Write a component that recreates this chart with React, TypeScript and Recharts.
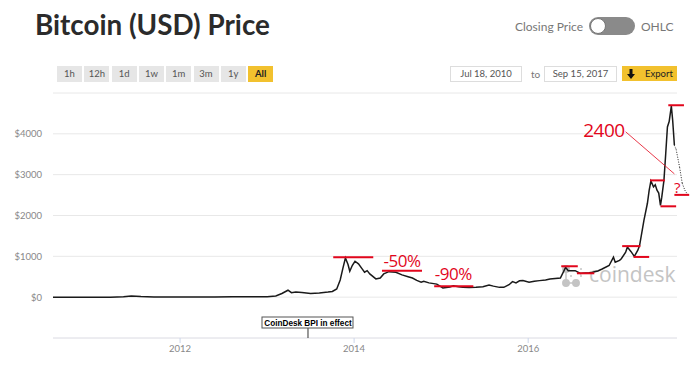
import React from "react";
import { LineChart, Line, XAxis, YAxis, CartesianGrid, ReferenceLine, ReferenceDot } from "recharts";

// closing price, sampled by eye from the chart (year as decimal)
const priceYears = [
  2010.54, 2010.8, 2011.0, 2011.2, 2011.35, 2011.44, 2011.55, 2011.7, 2011.9, 2012.1,
  2012.4, 2012.6, 2012.8, 2013.0, 2013.1, 2013.17, 2013.24, 2013.28, 2013.33, 2013.4,
  2013.5, 2013.6, 2013.7, 2013.75, 2013.8, 2013.84, 2013.87, 2013.9, 2013.93, 2013.95,
  2013.98, 2014.01, 2014.05, 2014.09, 2014.12, 2014.15, 2014.18, 2014.25, 2014.3, 2014.34,
  2014.4, 2014.48, 2014.55, 2014.62, 2014.67, 2014.72, 2014.77, 2014.8, 2014.86, 2014.95,
  2015.02, 2015.1, 2015.14, 2015.2, 2015.25, 2015.32, 2015.4, 2015.48, 2015.55, 2015.6,
  2015.67, 2015.72, 2015.78, 2015.82, 2015.86, 2015.9, 2015.94, 2016.01, 2016.07, 2016.13,
  2016.2, 2016.25, 2016.37, 2016.43, 2016.46, 2016.54, 2016.6, 2016.62, 2016.7, 2016.74,
  2016.8, 2016.85, 2016.93, 2016.98, 2017.0, 2017.05, 2017.07, 2017.12, 2017.14, 2017.18,
  2017.22, 2017.26, 2017.28, 2017.33, 2017.37, 2017.39, 2017.41, 2017.44, 2017.46, 2017.48,
  2017.5, 2017.52, 2017.535, 2017.56, 2017.58, 2017.6, 2017.62, 2017.645, 2017.66, 2017.68,
];
const priceValues = [
  0.07, 0.2, 0.3, 0.9, 8, 30, 14, 5, 3, 5,
  5, 11, 11, 13, 30, 90, 170, 110, 125, 115,
  90, 105, 125, 140, 200, 420, 700, 960, 800, 635,
  780, 880, 815, 700, 610, 650, 570, 447, 470, 570,
  625, 610, 545, 500, 470, 410, 365, 390, 350, 320,
  225, 250, 280, 255, 240, 235, 240, 255, 300, 270,
  240, 240, 305, 380, 350, 400, 405, 365, 390, 405,
  420, 445, 470, 730, 650, 650, 580, 585, 600, 610,
  640, 690, 775, 980, 855, 900, 940, 1100, 1225, 1120,
  1000, 1150, 1265, 1880, 2300, 2615, 2845, 2700, 2750, 2620,
  2550, 2250, 2450, 2860, 3500, 4170, 4300, 4680, 4340, 3720,
];

// hand drawn dotted projection after the last close
const projectionYears = [2017.68, 2017.7, 2017.74, 2017.77, 2017.8, 2017.83];
const projectionValues = [3720, 3620, 3180, 2790, 2620, 2520];

const yTicks = [0, 1000, 2000, 3000, 4000, 5000];
const xTicks = [2012, 2014, 2016];

// red level marks: [fromYear, toYear, price]
const levelMarks = [
  [2013.76, 2014.22, 980],
  [2014.32, 2014.78, 650],
  [2014.92, 2015.37, 265],
  [2016.38, 2016.57, 757],
  [2016.56, 2016.76, 585],
  [2017.08, 2017.29, 1250],
  [2017.21, 2017.39, 985],
  [2017.4, 2017.57, 2860],
  [2017.52, 2017.7, 2225],
  [2017.61, 2017.79, 4700],
  [2017.68, 2017.85, 2505],
];

// red notes: [year, price, text, fontSize]
const notes: [number, number, string, number][] = [
  [2014.55, 880, "-50%", 17],
  [2015.14, 577, "-90%", 17],
  [2016.87, 4090, "2400", 19],
  [2017.71, 2690, "?", 15],
];

const pointer = [
  { x: 2017.12, y: 4050 },
  { x: 2017.68, y: 3020 },
];

const bpiYear = 2013.47;

const RED = "#e2061c";

const data = priceYears.map((t, i) => ({ t, price: priceValues[i] }));

const YTick = ({ x, y, payload }: any) =>
  payload.value === 5000 ? null : (
    <text x={x} y={y} dy={3.5} textAnchor="end" fontSize={9.5} fill="#888" fontFamily="Lato, sans-serif">
      ${payload.value}
    </text>
  );

const BpiFlag = ({ cx, cy }: any) => (
  <g>
    <line x1={cx} y1={cy - 10} x2={cx} y2={cy} stroke="#333" />
    <rect x={cx - 46} y={cy - 21} width={91} height={11} fill="#fff" stroke="#555" />
    <text x={cx} y={cy - 12.5} textAnchor="middle" fontSize={8.2} fontWeight="bold" fill="#000" fontFamily="Liberation Sans, Arial, sans-serif">
      CoinDesk BPI in effect
    </text>
  </g>
);

const noteShape = (label: string, size: number) => ({ cx, cy }: any) => (
  <text x={cx} y={cy} dy={size * 0.36} textAnchor="middle" fontSize={size} fill={RED} fontFamily="Open Sans, sans-serif" letterSpacing={-0.5}>
    {label}
  </text>
);

const btn: React.CSSProperties = {
  position: "absolute",
  top: 66,
  height: 16,
  width: 25,
  background: "#e6e6e6",
  color: "#555",
  fontSize: 9.5,
  lineHeight: "16px",
  textAlign: "center",
};

const ranges = ["1h", "12h", "1d", "1w", "1m", "3m", "1y", "All"];

const App = () => {
  return (
    <div style={{ position: "relative", width: 690, height: 375, background: "#fff", fontFamily: "Lato, sans-serif", overflow: "hidden" }}>
      <style>{"body{margin:0}"}</style>

      <div style={{ position: "absolute", left: 35, top: 8, fontSize: 27.8, fontWeight: 700, color: "#2b2b2b", lineHeight: "34px" }}>
        Bitcoin (USD) Price
      </div>

      {ranges.map((r, i) => (
        <div
          key={r}
          style={{
            ...btn,
            left: 57 + i * 27.3,
            background: r === "All" ? "#f2c12e" : "#e6e6e6",
            color: r === "All" ? "#222" : "#555",
            fontWeight: r === "All" ? 700 : 400,
          }}
        >
          {r}
        </div>
      ))}

      <div style={{ position: "absolute", right: 107, top: 19, fontSize: 12, color: "#777" }}>Closing Price</div>
      <div style={{ position: "absolute", left: 589, top: 17, width: 46, height: 18, borderRadius: 9, background: "#8a8a8a" }}>
        <div style={{ position: "absolute", left: 1, top: 1, width: 14, height: 14, borderRadius: 8, background: "#fff", border: "1px solid #777" }} />
      </div>
      <div style={{ position: "absolute", left: 641, top: 19, fontSize: 12, color: "#777" }}>OHLC</div>

      <div style={{ position: "absolute", left: 450, top: 66, width: 70, height: 14, border: "1px solid #ddd", fontSize: 9.5, lineHeight: "14px", textAlign: "center", color: "#555" }}>
        Jul 18, 2010
      </div>
      <div style={{ position: "absolute", left: 531, top: 66, fontSize: 10, lineHeight: "16px", color: "#777" }}>to</div>
      <div style={{ position: "absolute", left: 544, top: 66, width: 71, height: 14, border: "1px solid #ddd", fontSize: 9.5, lineHeight: "14px", textAlign: "center", color: "#555" }}>
        Sep 15, 2017
      </div>
      <div style={{ position: "absolute", left: 622, top: 66, width: 55, height: 15, background: "#f2c12e", fontSize: 9.5, lineHeight: "15px", color: "#222" }}>
        <svg width="8" height="10" style={{ position: "absolute", left: 5, top: 3 }}>
          <path d="M2.5 0 H5.5 V5 H8 L4 10 L0 5 H2.5 Z" fill="#111" />
        </svg>
        <span style={{ position: "absolute", left: 23 }}>Export</span>
      </div>

      {/* watermark, behind the chart */}
      <div style={{ position: "absolute", left: 561, top: 263, width: 120, height: 26 }}>
        <svg width="26" height="26" style={{ position: "absolute", left: 0, top: 0 }}>
          <g fill="#c4c4c4" stroke="#c4c4c4" strokeWidth="1.5">
            <line x1="5" y1="6" x2="5" y2="20" />
            <line x1="5" y1="20" x2="15" y2="20" />
            <circle cx="5" cy="6" r="3.2" />
            <circle cx="5" cy="20" r="3.2" />
            <circle cx="15" cy="20" r="3.2" />
            <circle cx="10" cy="13" r="1" stroke="none" />
            <circle cx="20" cy="13" r="1" stroke="none" />
            <circle cx="20" cy="6" r="1" stroke="none" />
          </g>
        </svg>
        <span style={{ position: "absolute", left: 28, top: -3, fontSize: 21, color: "#c4c4c4", fontFamily: "Open Sans, sans-serif" }}>coindesk</span>
      </div>

      <div style={{ position: "absolute", left: 0, top: 0 }}>
        <LineChart width={690} height={375} data={data} margin={{ top: 93, right: 13, bottom: 17, left: 0 }}>
          <CartesianGrid horizontal vertical={false} stroke="#e8e8e8" />
          <XAxis
            dataKey="t"
            type="number"
            domain={[2010.54, 2017.71]}
            allowDataOverflow
            ticks={xTicks}
            tickFormatter={(v) => String(v)}
            height={20}
            tickSize={5}
            tickMargin={2}
            axisLine={{ stroke: "#e6e6ee" }}
            tickLine={{ stroke: "#ccd6eb" }}
            tick={{ fontSize: 9.5, fill: "#888", fontFamily: "Lato, sans-serif" }}
          />
          <YAxis
            type="number"
            domain={[-1000, 5000]}
            allowDataOverflow
            ticks={yTicks}
            width={53}
            tickSize={0}
            tickMargin={11}
            axisLine={false}
            tickLine={false}
            tick={<YTick />}
          />
          <Line type="linear" dataKey="price" stroke="#1a1a1a" strokeWidth={1.5} dot={false} isAnimationActive={false} />

          {projectionYears.slice(1).map((t, i) => (
            <ReferenceLine
              key={"p" + i}
              segment={[
                { x: projectionYears[i], y: projectionValues[i] },
                { x: t, y: projectionValues[i + 1] },
              ]}
              stroke="#222"
              strokeWidth={1}
              strokeDasharray="1 1.5"
              ifOverflow="visible"
            />
          ))}

          {levelMarks.map(([a, b, v], i) => (
            <ReferenceLine
              key={"m" + i}
              segment={[
                { x: a, y: v },
                { x: b, y: v },
              ]}
              stroke={RED}
              strokeWidth={2}
              ifOverflow="visible"
            />
          ))}

          <ReferenceLine segment={pointer} stroke={RED} strokeWidth={0.8} ifOverflow="visible" />

          {notes.map(([t, v, label, size]) => (
            <ReferenceDot key={label} x={t} y={v} r={0} ifOverflow="visible" shape={noteShape(label, size)} />
          ))}

          <ReferenceDot x={bpiYear} y={-1000} r={0} ifOverflow="visible" shape={<BpiFlag />} />
        </LineChart>
      </div>
    </div>
  );
};

export default App;
